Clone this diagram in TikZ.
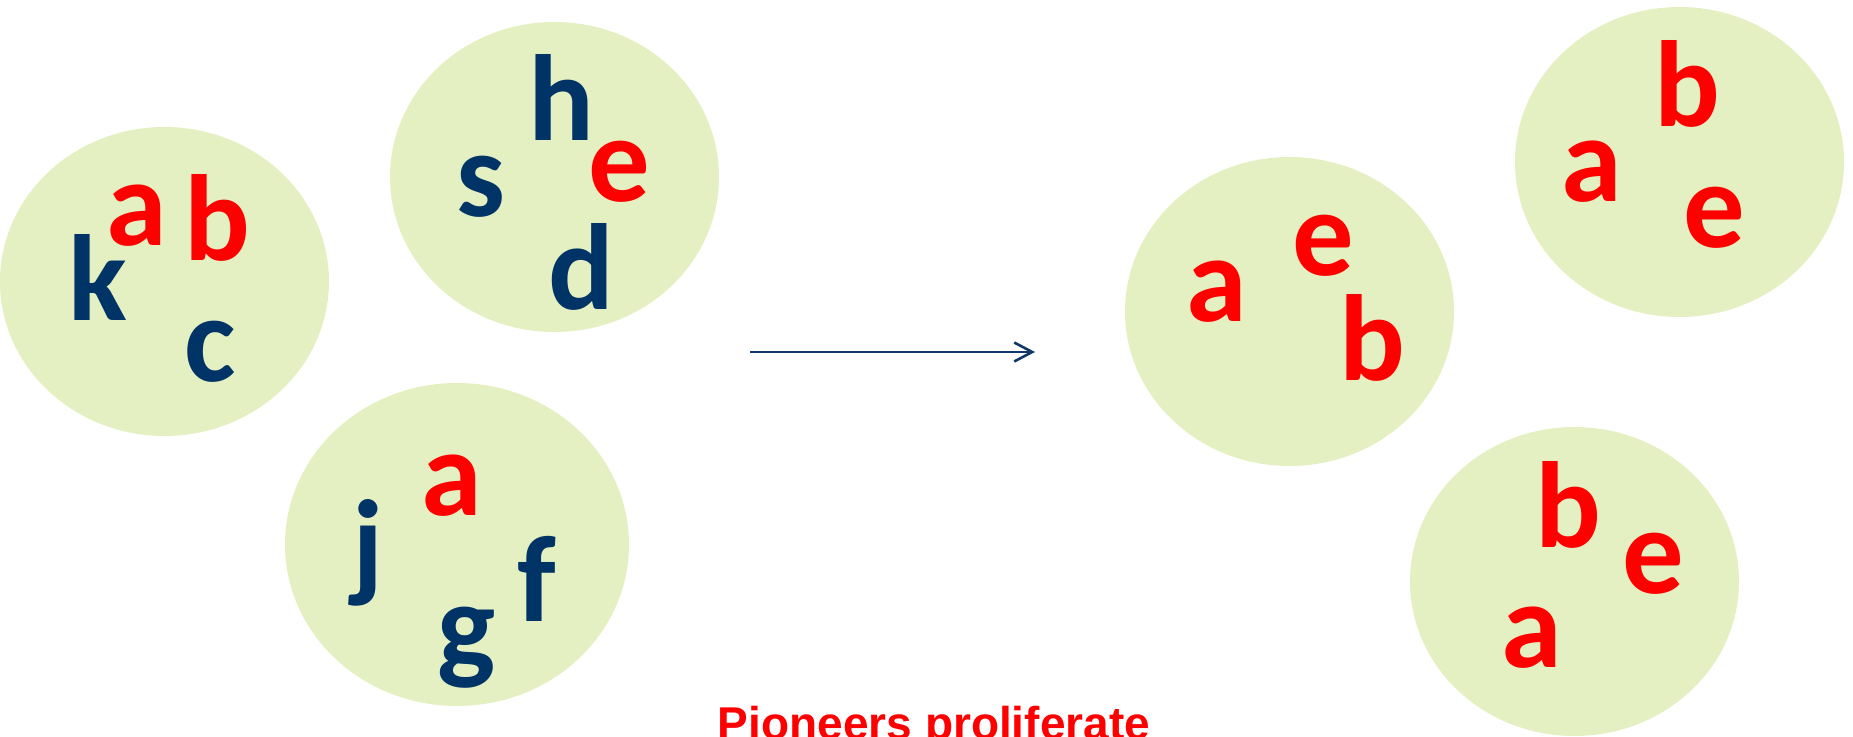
\documentclass[tikz,border=0pt]{standalone}
\usepackage{fontspec}
\usetikzlibrary{shapes.geometric,arrows.meta}
\newfontfamily\letterfont{Carlito}
\newfontfamily\titlefont{Liberation Sans}
\definecolor{blobgreen}{RGB}{228,240,194}
\definecolor{navy}{RGB}{0,51,102}
\definecolor{arrowblue}{RGB}{16,56,104}
\begin{document}
\begin{tikzpicture}[x=0.5pt,y=-0.5pt,
  blob/.style={ellipse, fill=blobgreen, draw=none, inner sep=0pt},
  ltr/.style={anchor=base, inner sep=0pt, font=\letterfont\bfseries\fontsize{61.3}{61.3}\selectfont},
  nav/.style={ltr, text=navy},
  rd/.style={ltr, text=red},
  arr/.style={draw=arrowblue, line width=1.3pt, -{Straight Barb[length=9pt,width=9.5pt,line width=1.3pt]}}]
\useasboundingbox (0,0) rectangle (1853,737);
\clip (0,0) rectangle (1853,737);
% blobs
\node[blob, minimum width=164.5pt, minimum height=154.5pt] (e1) at (164.5,281.5) {};
\node[blob, minimum width=164.5pt, minimum height=155pt] (e2) at (554.5,177) {};
\node[blob, minimum width=172pt, minimum height=161.5pt] (e3) at (457,544.5) {};
\node[blob, minimum width=164.5pt, minimum height=154.5pt] (e4) at (1289.5,311.5) {};
\node[blob, minimum width=164.5pt, minimum height=155pt] (e5) at (1679.5,162) {};
\node[blob, minimum width=164.5pt, minimum height=154.5pt] (e6) at (1574.5,581.5) {};
% blob 1
\node[rd]  (a1) at (137,246) {a};
\node[rd]  (b1) at (217,261) {b};
\node[nav] (k1) at (98,321) {k};
\node[nav] (c1) at (210,382) {c};
% blob 2
\node[nav] (h2) at (561,141) {h};
\node[rd]  (e2l) at (619,202) {e};
\node[nav] (s2) at (481,217) {s};
\node[nav] (d2) at (581,310) {d};
% blob 3
\node[rd]  (a3) at (451.5,516) {a};
\node[nav] (j3) at (368,585) {j};
\node[nav] (f3) at (537,621) {f};
\node[nav] (g3) at (467,667) {g};
% blob 4
\node[rd] (a4) at (1216.5,322) {a};
\node[rd] (e4l) at (1323.5,276) {e};
\node[rd] (b4) at (1372,381) {b};
% blob 5
\node[rd] (b5) at (1687,127) {b};
\node[rd] (a5) at (1592,202) {a};
\node[rd] (e5l) at (1714,248) {e};
% blob 6
\node[rd] (b6) at (1568,547) {b};
\node[rd] (e6l) at (1653.5,593) {e};
\node[rd] (a6) at (1532,667) {a};
% arrow
\coordinate (as) at (750,352);
\coordinate (ae) at (1035,352);
\draw[arr] (as) -- (ae);
% title
\node[anchor=base, inner sep=0pt, text=red, font=\titlefont\bfseries\fontsize{23}{23}\selectfont] (title) at (934,739) {Pioneers proliferate};
\end{tikzpicture}
\end{document}
